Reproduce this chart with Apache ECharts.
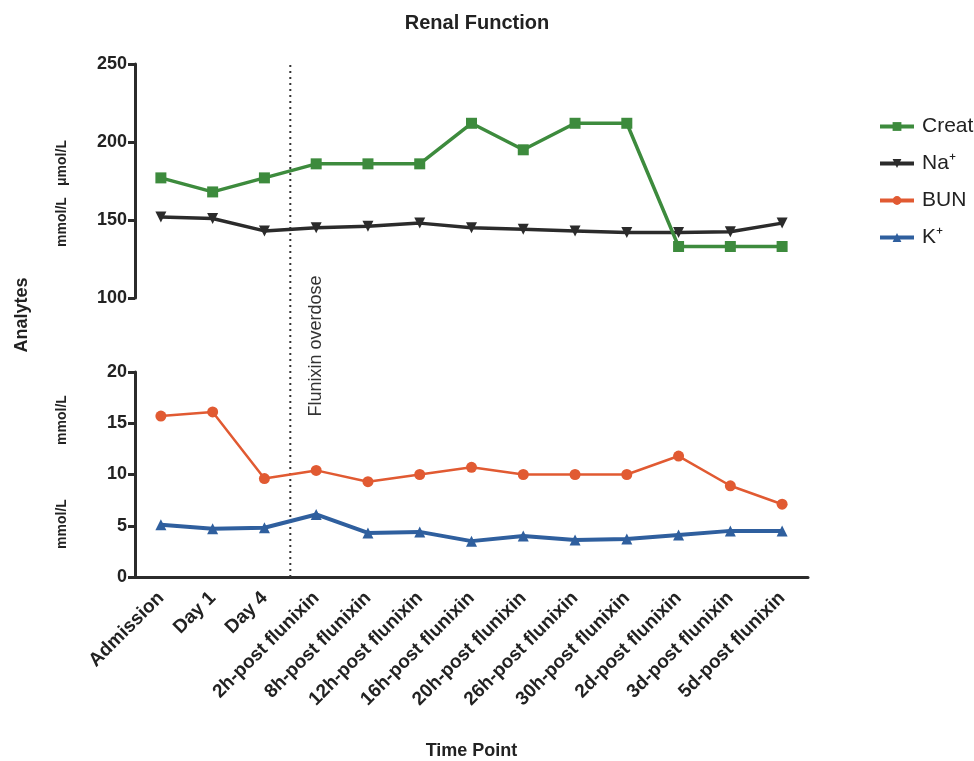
<!DOCTYPE html>
<html><head><meta charset="utf-8">
<script src="https://cdn.jsdelivr.net/npm/echarts@6/dist/echarts.min.js"></script>
<style>html,body{margin:0;padding:0;background:#fff}#c{width:974px;height:761px}</style>
</head><body><div id="c"></div>
<script>
const categories = ['Admission','Day 1','Day 4','2h-post flunixin','8h-post flunixin','12h-post flunixin','16h-post flunixin','20h-post flunixin','26h-post flunixin','30h-post flunixin','2d-post flunixin','3d-post flunixin','5d-post flunixin'];
const creat = [177,168,177,186,186,186,212,195,212,212,133,133,133];
const na = [152,151,143,145,146,148,145,144,143,142,142,142.5,148];
const bun = [15.7,16.1,9.6,10.4,9.3,10.0,10.7,10.0,10.0,10.0,11.8,8.9,7.1];
const k = [5.1,4.7,4.8,6.1,4.3,4.4,3.5,4.0,3.6,3.7,4.1,4.5,4.5];
const topTicks = {min:100,max:250,interval:50};
const botTicks = {min:0,max:20,interval:5};
const eventPos = [[2.5,0],[2.5,1]];

const FONT = '"Liberation Sans", Arial, sans-serif';
const AX = '#2b2b2b';
const chart = echarts.init(document.getElementById('c'), null, {renderer:'canvas'});
const yLab = {fontFamily:FONT,fontWeight:'bold',fontSize:18,color:'#222',margin:8};
chart.setOption({
  animation:false,
  title:{text:'Renal Function',left:472,top:8,textAlign:'center',textStyle:{fontFamily:FONT,fontWeight:'bold',fontSize:20,color:'#222'}},
  legend:{orient:'vertical',left:873,top:111,itemGap:16,itemWidth:34,itemHeight:11,
    lineStyle:{width:4},
    textStyle:{fontFamily:FONT,fontSize:21,color:'#222',padding:[0,0,0,3]},
    data:['Creat','Na⁺','BUN','K⁺']},
  grid:[
    {left:135,top:64,width:673,height:234},
    {left:135,top:372,width:673,height:205},
    {left:135,top:64,width:673,height:513}
  ],
  xAxis:[
    {type:'category',gridIndex:0,data:categories,show:false,boundaryGap:true},
    {type:'category',gridIndex:1,data:categories,boundaryGap:true,
     axisLine:{lineStyle:{color:AX,width:3}},
     axisTick:{alignWithLabel:true,length:7,lineStyle:{color:AX,width:3}},
     axisLabel:{rotate:45,interval:0,fontFamily:FONT,fontWeight:'bold',fontSize:19,color:'#222',margin:18},
     name:'Time Point',nameLocation:'middle',nameGap:165,
     nameTextStyle:{fontFamily:FONT,fontWeight:'bold',fontSize:18,color:'#222'}},
    {type:'value',gridIndex:2,min:-0.5,max:12.5,show:false}
  ],
  yAxis:[
    {type:'value',gridIndex:0,min:topTicks.min,max:topTicks.max,interval:topTicks.interval,
     axisLine:{show:true,lineStyle:{color:AX,width:3}},
     axisTick:{show:true,length:7,lineStyle:{color:AX,width:3}},
     splitLine:{show:false},axisLabel:yLab},
    {type:'value',gridIndex:1,min:botTicks.min,max:botTicks.max,interval:botTicks.interval,
     axisLine:{show:true,lineStyle:{color:AX,width:3}},
     axisTick:{show:true,length:7,lineStyle:{color:AX,width:3}},
     splitLine:{show:false},axisLabel:yLab},
    {type:'value',gridIndex:2,min:0,max:1,show:false}
  ],
  series:[
    {name:'Creat',type:'line',xAxisIndex:0,yAxisIndex:0,data:creat,symbol:'rect',symbolSize:11,
     itemStyle:{color:'#3d8b3d'},lineStyle:{width:3.5,color:'#3d8b3d'},z:5},
    {name:'Na⁺',type:'line',xAxisIndex:0,yAxisIndex:0,data:na,symbol:'triangle',symbolRotate:180,symbolSize:11,
     itemStyle:{color:'#2b2b2b'},lineStyle:{width:3.5,color:'#2b2b2b'},z:4},
    {name:'BUN',type:'line',xAxisIndex:1,yAxisIndex:1,data:bun,symbol:'circle',symbolSize:11,
     itemStyle:{color:'#e15a32'},lineStyle:{width:2.5,color:'#e15a32'}},
    {name:'K⁺',type:'line',xAxisIndex:1,yAxisIndex:1,data:k,symbol:'triangle',symbolSize:11,
     itemStyle:{color:'#2f5f9e'},lineStyle:{width:4,color:'#2f5f9e'}},
    {name:'event',type:'line',xAxisIndex:2,yAxisIndex:2,data:eventPos,symbol:'none',silent:true,
     lineStyle:{color:'#333',width:2,type:[2,4]},z:1}
  ],
  graphic:[
    {type:'text',x:316,y:346,rotation:Math.PI/2,style:{text:'Flunixin overdose',align:'center',verticalAlign:'middle',font:'18px '+FONT,fill:'#333'}},
    {type:'text',x:22,y:315,rotation:Math.PI/2,style:{text:'Analytes',align:'center',verticalAlign:'middle',font:'bold 18px '+FONT,fill:'#222'}},
    {type:'text',x:62,y:163,rotation:Math.PI/2,style:{text:'μmol/L',align:'center',verticalAlign:'middle',font:'bold 14px '+FONT,fill:'#222'}},
    {type:'text',x:62,y:222,rotation:Math.PI/2,style:{text:'mmol/L',align:'center',verticalAlign:'middle',font:'bold 14px '+FONT,fill:'#222'}},
    {type:'text',x:62,y:420,rotation:Math.PI/2,style:{text:'mmol/L',align:'center',verticalAlign:'middle',font:'bold 14px '+FONT,fill:'#222'}},
    {type:'text',x:62,y:524,rotation:Math.PI/2,style:{text:'mmol/L',align:'center',verticalAlign:'middle',font:'bold 14px '+FONT,fill:'#222'}}
  ]
});
</script></body></html>
